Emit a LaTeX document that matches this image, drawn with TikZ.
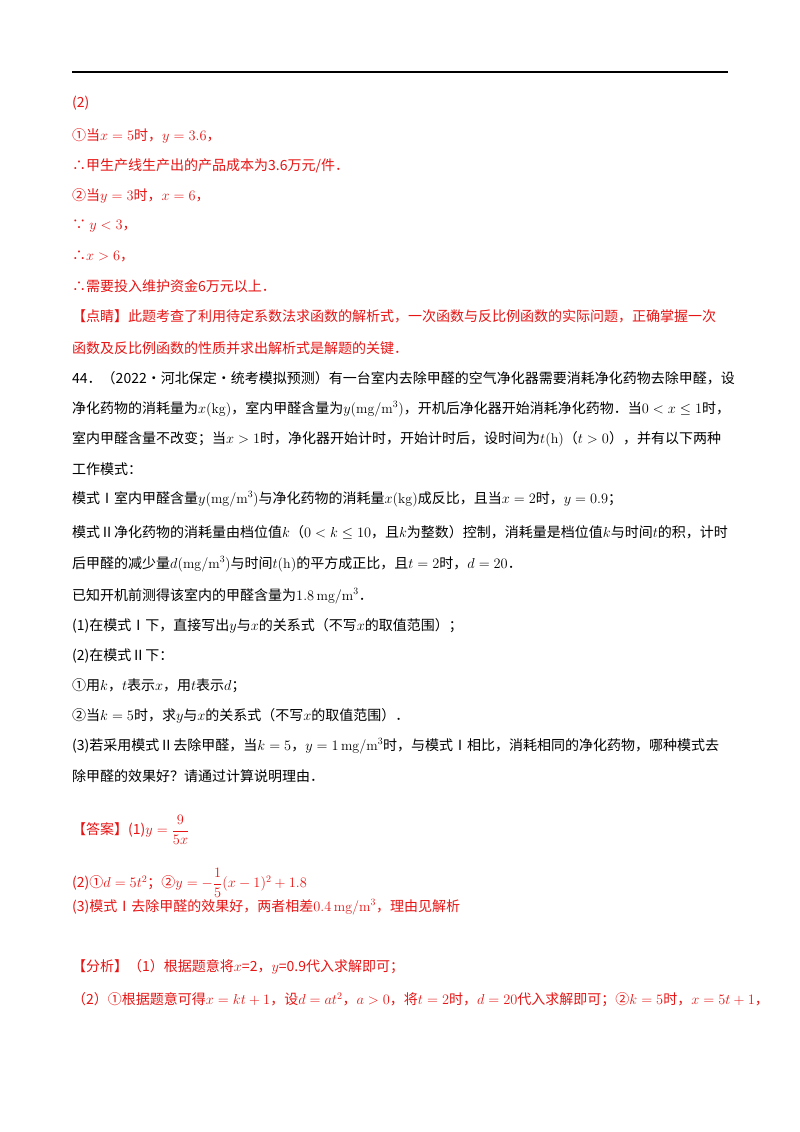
\documentclass[tikz,border=0pt]{standalone}
\usepackage{amsmath}
\usepackage{fontspec}
\newfontfamily\cjk{Noto Sans CJK SC}
\definecolor{rd}{RGB}{230,20,20}
\begin{document}
\begin{tikzpicture}[x=1pt,y=-1pt,
 ln/.style={anchor=west,inner sep=0pt,font=\cjk\fontsize{14}{17}\selectfont},
 rl/.style={ln,text=rd}]
\useasboundingbox (0,0) rectangle (800,1132);
\draw[line width=1.5pt] (72,72) -- (728,72);
\node[rl] (a1) at (72,103) {(2)};
\node[rl] (a2) at (72,136) {①当$x=5$时，$y=3.6$，};
\node[rl] (a3) at (72,166) {∴甲生产线生产出的产品成本为3.6万元/件．};
\node[rl] (a4) at (72,196) {②当$y=3$时，$x=6$，};
\node[rl] (a5) at (72,226) {∵ $y<3$，};
\node[rl] (a6) at (72,256) {∴$x>6$，};
\node[rl] (a7) at (72,286) {∴需要投入维护资金6万元以上．};
\node[rl] (a8) at (72,316) {【点睛】此题考查了利用待定系数法求函数的解析式，一次函数与反比例函数的实际问题，正确掌握一次};
\node[rl] (a9) at (72,348) {函数及反比例函数的性质并求出解析式是解题的关键．};
\node[ln] (b1) at (72,378) {44．（2022·河北保定·统考模拟预测）有一台室内去除甲醛的空气净化器需要消耗净化药物去除甲醛，设};
\node[ln] (b2) at (72,409) {净化药物的消耗量为$x(\mathrm{kg})$，室内甲醛含量为$y(\mathrm{mg/m^3})$，开机后净化器开始消耗净化药物．当$0<x\le1$时，};
\node[ln] (b3) at (72,439) {室内甲醛含量不改变；当$x>1$时，净化器开始计时，开始计时后，设时间为$t(\mathrm{h})$（$t>0$），并有以下两种};
\node[ln] (b4) at (72,469) {工作模式：};
\node[ln] (b5) at (72,499) {模式Ⅰ室内甲醛含量$y(\mathrm{mg/m^3})$与净化药物的消耗量$x(\mathrm{kg})$成反比，且当$x=2$时，$y=0.9$；};
\node[ln] (b6) at (72,532) {模式Ⅱ净化药物的消耗量由档位值$k$（$0<k\le10$，且$k$为整数）控制，消耗量是档位值$k$与时间$t$的积，计时};
\node[ln] (b7) at (72,564) {后甲醛的减少量$d(\mathrm{mg/m^3})$与时间$t(\mathrm{h})$的平方成正比，且$t=2$时，$d=20$．};
\node[ln] (b8) at (72,596) {已知开机前测得该室内的甲醛含量为$1.8\,\mathrm{mg/m^3}$．};
\node[ln] (b9) at (72,626) {(1)在模式Ⅰ下，直接写出$y$与$x$的关系式（不写$x$的取值范围）；};
\node[ln] (b10) at (72,656) {(2)在模式Ⅱ下：};
\node[ln] (b11) at (72,686) {①用$k$，$t$表示$x$，用$t$表示$d$；};
\node[ln] (b12) at (72,716) {②当$k=5$时，求$y$与$x$的关系式（不写$x$的取值范围）．};
\node[ln] (b13) at (72,746) {(3)若采用模式Ⅱ去除甲醛，当$k=5$，$y=1\,\mathrm{mg/m^3}$时，与模式Ⅰ相比，消耗相同的净化药物，哪种模式去};
\node[ln] (b14) at (72,776) {除甲醛的效果好？请通过计算说明理由．};
\node[rl] (c1) at (72,830) {【答案】(1)$y=\dfrac{9}{5x}$};
\node[rl] (c2) at (72,883) {(2)①$d=5t^2$；②$y=-\dfrac15(x-1)^2+1.8$};
\node[rl] (c3) at (72,907) {(3)模式Ⅰ去除甲醛的效果好，两者相差$0.4\,\mathrm{mg/m^3}$，理由见解析};
\node[rl] (c4) at (72,967) {【分析】（1）根据题意将$x$=2，$y$=0.9代入求解即可；};
\node[rl] (c5) at (72,1000) {（2）①根据题意可得$x=kt+1$，设$d=at^2$，$a>0$，将$t=2$时，$d=20$代入求解即可；②$k=5$时，$x=5t+1$，};
\end{tikzpicture}
\end{document}
